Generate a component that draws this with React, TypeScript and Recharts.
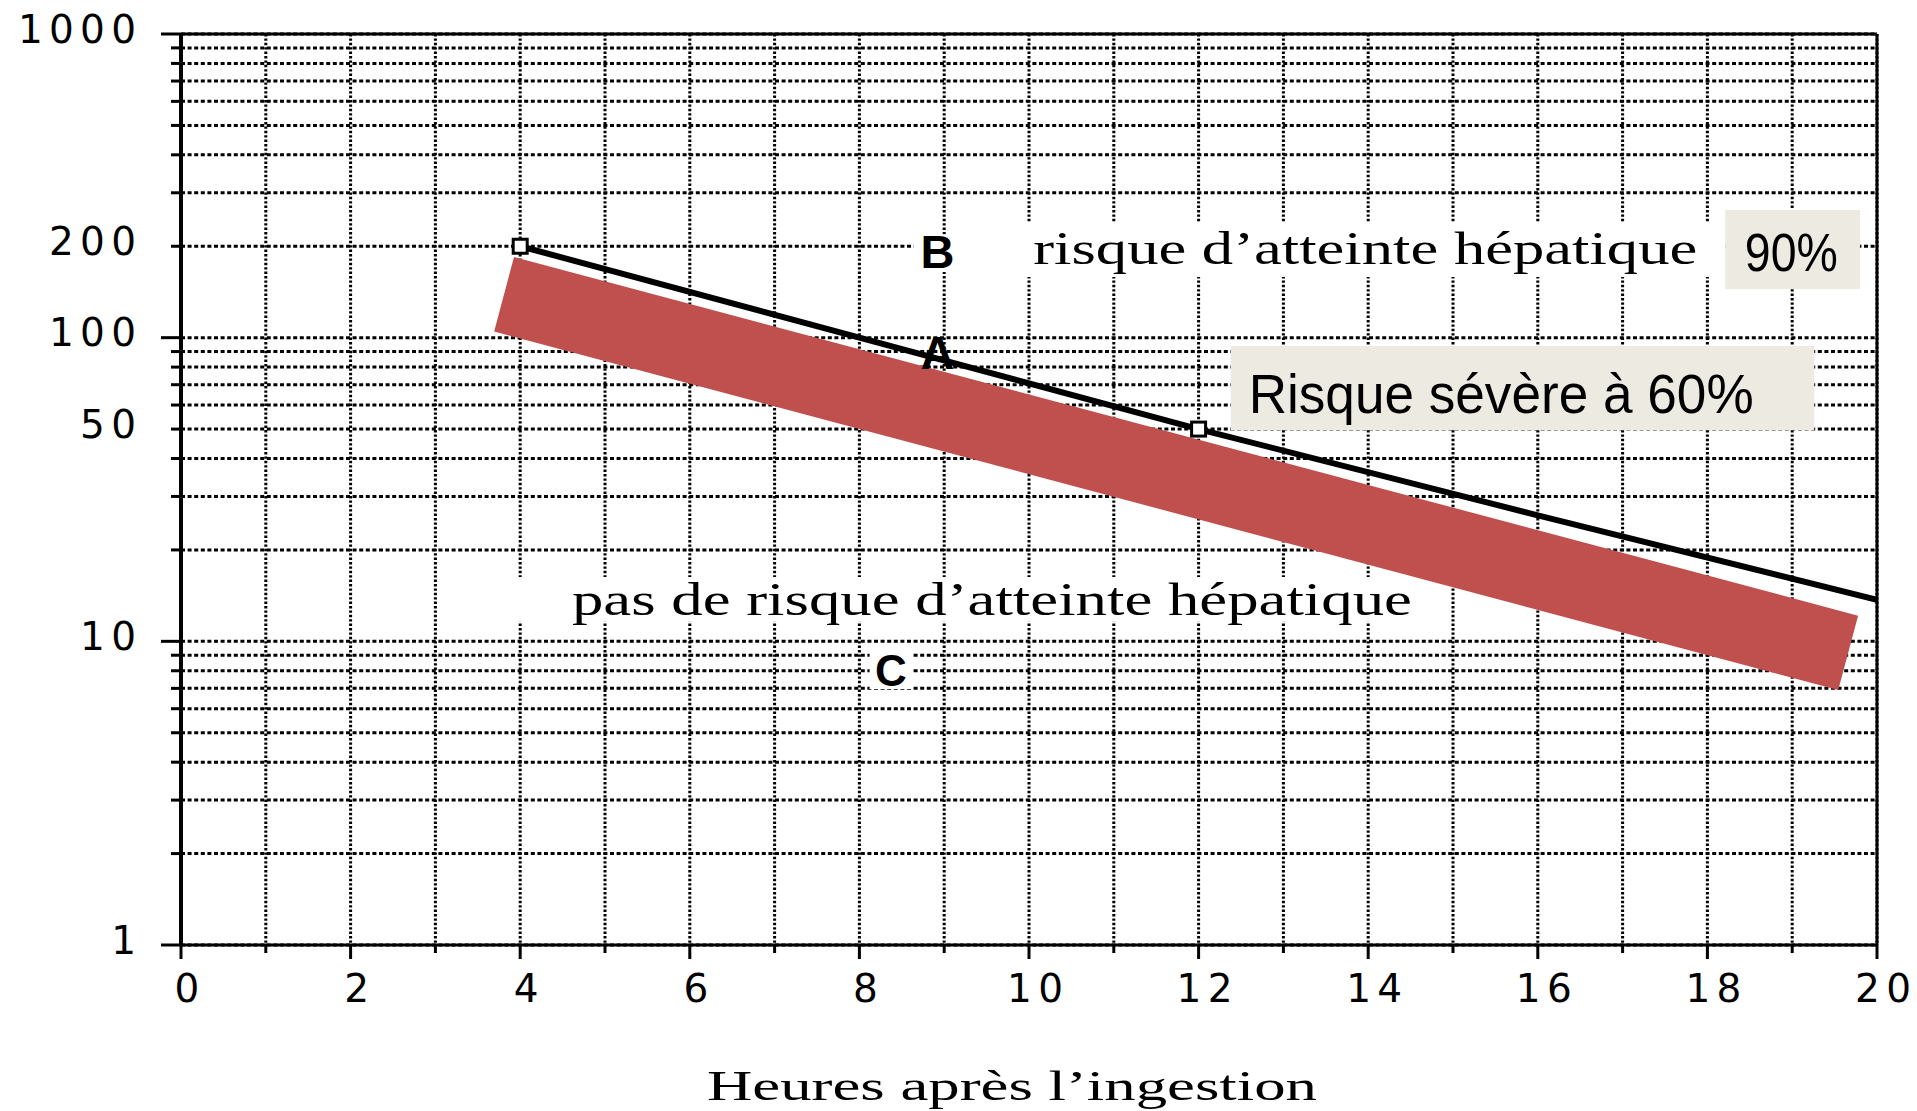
import React from "react";
import {
  ComposedChart,
  Line,
  XAxis,
  YAxis,
  CartesianGrid,
  ReferenceArea,
  ReferenceDot,
  ReferenceLine,
} from "recharts";

// ---- data ----
const hourTicks = [0, 1, 2, 3, 4, 5, 6, 7, 8, 9, 10, 11, 12, 13, 14, 15, 16, 17, 18, 19, 20];
const hourLabels = [0, 2, 4, 6, 8, 10, 12, 14, 16, 18, 20];
const concTicks = [
  1, 2, 3, 4, 5, 6, 7, 8, 9, 10, 20, 30, 40, 50, 60, 70, 80, 90, 100, 200, 300, 400, 500, 600,
  700, 800, 900, 1000,
];
const concLabels = [1, 10, 50, 100, 200, 1000];
const concDecades = [1, 10, 100, 1000];

const thresholdHours = [4, 8, 12, 16, 20];
const thresholdConc = [200, 100, 50, 26, 13.7];
const markedHours = [4, 12];

const bandHours = [3.81, 19.66];
const bandConc = [139, 9.16];

const xAxisTitle = "Heures après l’ingestion";

const annotations = [
  { id: "B", text: "B", hour: 8.92, conc: 169.5 },
  { id: "A", text: "A", hour: 8.92, conc: 78.8 },
  { id: "C", text: "C", hour: 8.37, conc: 7.13 },
  { id: "risk", text: "risque d’atteinte hépatique", hour: 10.05, conc: 174.7 },
  { id: "norisk", text: "pas de risque d’atteinte hépatique", hour: 4.61, conc: 12.21 },
  { id: "p90", text: "90%", hour: 18.99, conc: 165.7 },
  { id: "p60", text: "Risque sévère à 60%", hour: 12.59, conc: 56.4 },
];

const boxes = [
  { id: "maskB", kind: "mask", hours: [8.64, 9.16], conc: [164.5, 219] },
  { id: "maskRisk", kind: "mask", hours: [9.14, 18.21], conc: [158.3, 240.3] },
  { id: "maskNoRisk", kind: "mask", hours: [3.82, 14.66], conc: [11.6, 16.3] },
  { id: "maskC", kind: "mask", hours: [8.12, 8.62], conc: [6.97, 9.36] },
  { id: "box90", kind: "note", hours: [18.21, 19.8], conc: [144.5, 263.2] },
  { id: "box60", kind: "note", hours: [12.38, 19.26], conc: [49.6, 93.8] },
];

const thresholdData = thresholdHours.map((h, i) => ({ hour: h, conc: thresholdConc[i] }));
const bandData = bandHours.map((h, i) => ({ hour: h, conc: bandConc[i] }));

// ---- styles ----
const SANS = "'Liberation Sans', Arial, sans-serif";
const SERIF = "'Liberation Serif', 'Times New Roman', serif";
const TICK_FONT = "'DejaVu Sans', sans-serif";

const boxFill: Record<string, string> = { mask: "#ffffff", note: "#ECEAE1" };

const textStyles: Record<string, any> = {
  B: { fontFamily: SANS, fontWeight: 700, fontSize: 47, textAnchor: "middle" },
  A: { fontFamily: SANS, fontWeight: 700, fontSize: 47, textAnchor: "middle" },
  C: { fontFamily: SANS, fontWeight: 700, fontSize: 44, textAnchor: "middle" },
  risk: { fontFamily: SERIF, fontSize: 46, textAnchor: "start", textLength: 664 },
  norisk: { fontFamily: SERIF, fontSize: 46, textAnchor: "start", textLength: 840 },
  p90: { fontFamily: SANS, fontSize: 54, textAnchor: "middle", textLength: 93 },
  p60: { fontFamily: SANS, fontSize: 56, textAnchor: "start", textLength: 505 },
};

const labelWidth = (s: string) => 31 * s.length - 6;

const YTick = (props: any) => {
  const { x, y, payload } = props;
  const v = payload.value;
  const len = concDecades.includes(v) ? 20 : 10;
  const s = String(v);
  return (
    <g>
      <line x1={x - len} x2={x} y1={y} y2={y} stroke="#000" strokeWidth={3} />
      {concLabels.includes(v) && (
        <text
          x={x - 45}
          y={y - 5}
          textAnchor="end"
          dominantBaseline="central"
          fontFamily={TICK_FONT}
          fontSize={39}
          fill="#000"
          {...(s.length > 1 ? { textLength: labelWidth(s), lengthAdjust: "spacing" } : {})}
        >
          {s}
        </text>
      )}
    </g>
  );
};

const XTick = (props: any) => {
  const { x, y, payload } = props;
  const v = payload.value;
  const major = hourLabels.includes(v);
  const s = String(v);
  return (
    <g>
      <line x1={x} x2={x} y1={y} y2={y + (major ? 14 : 8)} stroke="#000" strokeWidth={3} />
      {major && (
        <text
          x={x + 6}
          y={y + 43}
          textAnchor="middle"
          dominantBaseline="central"
          fontFamily={TICK_FONT}
          fontSize={39}
          fill="#000"
          {...(s.length > 1 ? { textLength: labelWidth(s), lengthAdjust: "spacing" } : {})}
        >
          {s}
        </text>
      )}
    </g>
  );
};

const renderMarker = (p: any) => {
  const { cx, cy, payload, index } = p;
  if (!markedHours.includes(payload.hour)) return <g key={`m${index}`} />;
  return (
    <rect
      key={`m${index}`}
      x={cx - 7}
      y={cy - 7}
      width={14}
      height={14}
      fill="#fff"
      stroke="#000"
      strokeWidth={3}
    />
  );
};

const XTitle = (props: any) => {
  const vb = props.viewBox || {};
  return (
    <text
      x={vb.x + vb.width / 2 - 17}
      y={vb.y + 155}
      textAnchor="middle"
      fontFamily={SERIF}
      fontSize={42}
      fill="#000"
      textLength={610}
      lengthAdjust="spacingAndGlyphs"
    >
      {xAxisTitle}
    </text>
  );
};

export default function App() {
  return (
    <div style={{ position: "absolute", left: 0, top: 0, width: 1917, height: 1111, background: "#fff" }}>
      <ComposedChart width={1917} height={1111} margin={{ top: 34, right: 40, left: 0, bottom: 0 }}>
        <CartesianGrid
          horizontal={true}
          vertical={false}
          stroke="#000"
          strokeWidth={3}
          strokeDasharray="4 2.6"
        />
        <CartesianGrid
          horizontal={false}
          vertical={true}
          stroke="#000"
          strokeWidth={3}
          strokeDasharray="2.4 2"
        />
        <XAxis
          type="number"
          dataKey="hour"
          domain={[0, 20]}
          ticks={hourTicks}
          interval={0}
          allowDataOverflow
          height={166}
          tickSize={0}
          tickMargin={0}
          tickLine={false}
          axisLine={{ stroke: "#000", strokeWidth: 3 }}
          tick={<XTick />}
          label={<XTitle />}
        />
        <YAxis
          type="number"
          dataKey="conc"
          scale="log"
          domain={[1, 1000]}
          ticks={concTicks}
          interval={0}
          allowDataOverflow
          width={181}
          tickSize={0}
          tickMargin={0}
          tickLine={false}
          axisLine={{ stroke: "#000", strokeWidth: 4 }}
          tick={<YTick />}
        />
        {boxes.map((b) => (
          <ReferenceArea
            key={b.id}
            x1={b.hours[0]}
            x2={b.hours[1]}
            y1={b.conc[0]}
            y2={b.conc[1]}
            fill={boxFill[b.kind]}
            fillOpacity={1}
            stroke="none"
            ifOverflow="visible"
          />
        ))}
        <ReferenceLine y={1000} stroke="#000" strokeWidth={3} ifOverflow="visible" />
        <ReferenceLine x={20} stroke="#000" strokeWidth={3} ifOverflow="visible" />
        <Line
          data={bandData}
          dataKey="conc"
          type="linear"
          stroke="#C0504D"
          strokeWidth={77}
          strokeLinecap="butt"
          dot={false}
          activeDot={false}
          isAnimationActive={false}
        />
        <Line
          data={thresholdData}
          dataKey="conc"
          type="linear"
          stroke="#000"
          strokeWidth={6}
          dot={renderMarker}
          activeDot={false}
          isAnimationActive={false}
        />
        {annotations.map((a) => (
          <ReferenceDot
            key={a.id}
            x={a.hour}
            y={a.conc}
            r={0}
            ifOverflow="visible"
            shape={(p: any) => {
              const st = textStyles[a.id];
              const { textLength, ...rest } = st;
              return (
                <text
                  x={p.cx}
                  y={p.cy}
                  fill="#000"
                  {...rest}
                  {...(textLength ? { textLength, lengthAdjust: "spacingAndGlyphs" } : {})}
                >
                  {a.text}
                </text>
              );
            }}
          />
        ))}
      </ComposedChart>
    </div>
  );
}
